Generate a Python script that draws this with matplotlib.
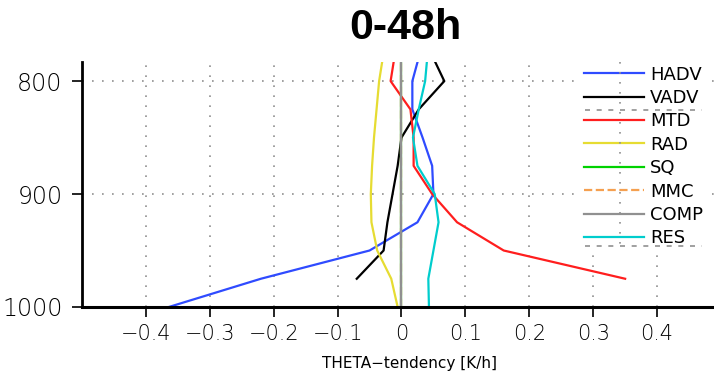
import numpy as np
import matplotlib.pyplot as plt

# pressure levels [hPa]
lev = [1000, 975, 950, 925, 900, 875, 850, 825, 800, 775]

# tendencies [K/h], nan = below ground
hadv = [-0.364, -0.22, -0.05, 0.025, 0.05, 0.048, 0.033, 0.017, 0.017, 0.029]
vadv = [np.nan, -0.07, -0.028, -0.022, -0.014, -0.006, 0.0, 0.027, 0.067, 0.046]
mtd = [np.nan, 0.35, 0.16, 0.087, 0.048, 0.019, 0.019, 0.014, -0.017, -0.010]
rad = [-0.006, -0.016, -0.038, -0.047, -0.048, -0.046, -0.043, -0.039, -0.035, -0.028]
sq = [0.0] * 10
mmc = [0.0] * 10
comp = [0.0] * 10
res = [0.043, 0.042, 0.05, 0.058, 0.052, 0.025, 0.018, 0.027, 0.037, 0.041]

names = ['HADV', 'VADV', 'MTD', 'RAD', 'SQ', 'MMC', 'COMP', 'RES']
colors = ['#2f4bff', 'black', '#ff1e1e', '#e6dc32', '#00d200', '#f5a050', '#909090', '#00cdcd']
series = [hadv, vadv, mtd, rad, sq, mmc, comp, res]

xticks = [-0.4, -0.3, -0.2, -0.1, 0, 0.1, 0.2, 0.3, 0.4]
xticklabels = ['\u22120.4', '\u22120.3', '\u22120.2', '\u22120.1', '0', '0.1', '0.2', '0.3', '0.4']
yticks = [800, 900, 1000]

fig = plt.figure(figsize=(7.14, 3.73), dpi=100)
ax = fig.add_axes([0.1148, 0.177, 0.895, 0.657])

lines = []
for name, c, s in zip(names, colors, series):
    ls = '--' if name == 'MMC' else '-'
    l, = ax.plot(s, lev, color=c, lw=1.6, ls=ls, label=name)
    lines.append(l)

ax.set_xlim(-0.5, 0.5)
ax.set_ylim(1000, 783)
ax.set_xticks(xticks)
ax.set_xticklabels(xticklabels)
ax.set_yticks(yticks)
ax.tick_params(axis='x', direction='out', length=7, width=1.2, labelsize=15, pad=5)
ax.tick_params(axis='y', direction='out', length=7, width=1.2, labelsize=17, pad=7)
for lab in ax.get_xticklabels() + ax.get_yticklabels():
    lab.set_fontweight('light')

ax.grid(True, color='#909090', ls=(0, (1, 5)), lw=1.2)
ax.spines['top'].set_visible(False)
ax.spines['right'].set_visible(False)
ax.spines['left'].set_linewidth(2)
ax.spines['bottom'].set_linewidth(2.2)

ax.set_xlabel('THETA\u2212tendency [K/h]', fontsize=11)
ax.xaxis.set_label_coords(0.513, -0.2)

fig.text(0.568, 0.925, '0-48h', fontsize=31, fontweight='bold',
         family='Liberation Sans', ha='center', va='center')

leg = ax.legend(handles=lines, loc='upper left', bbox_to_anchor=(0.78, 1.0),
                frameon=True, fancybox=False, edgecolor='none', framealpha=1,
                fontsize=13, handlelength=3.3, handletextpad=0.35,
                labelspacing=0.30, borderpad=0.2, borderaxespad=0)
for t in leg.get_texts():
    t.set_family(['DejaVu Sans Condensed', 'Liberation Sans Narrow', 'DejaVu Sans'])

# stray dotted/dashed guide lines drawn through the legend box in the original
dots = dict(color='#909090', lw=1.2, zorder=6)
ax.plot([0.342, 0.342], [783, 947], ls=(0, (1, 5)), **dots)
ax.plot([0.2875, 0.47], [825.5, 825.5], ls=(0, (3, 4)), **dots)
ax.plot([0.2875, 0.47], [946, 946], ls=(0, (3, 4)), **dots)

fig.savefig('out.png', dpi=100)
